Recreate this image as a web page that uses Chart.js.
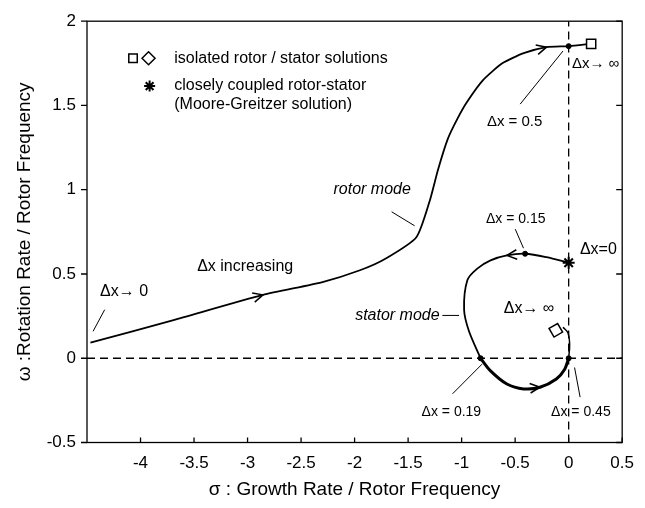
<!DOCTYPE html>
<html>
<head>
<meta charset="utf-8">
<script src="https://cdn.jsdelivr.net/npm/chart.js@4.4.0/dist/chart.umd.min.js"></script>
<style>
  html, body { margin: 0; padding: 0; background: #fff; }
  #wrap { width: 645px; height: 508px; }
</style>
</head>
<body>
<div id="wrap"><canvas id="graph_modos"></canvas></div>
<script>
// ---------- datos (sigma, omega) ----------
const rotorSigma = [-4.468, -3.70, -2.856, -2.30, -1.95, -1.708, -1.423, -1.30, -1.22, -1.13, -1.04, -0.95, -0.80, -0.62, -0.42, -0.207, 0, 0.21];
const rotorOmega = [0.092, 0.225, 0.376, 0.452, 0.522, 0.592, 0.718, 0.93, 1.12, 1.30, 1.42, 1.52, 1.65, 1.75, 1.81, 1.846, 1.852, 1.866];

const statorSigma = [0, -0.207, -0.407, -0.577, -0.730, -0.854, -0.946, -0.977, -0.931, -0.823];
const statorOmega = [0.567, 0.600, 0.62, 0.61, 0.581, 0.532, 0.464, 0.288, 0.160, 0.0];

const statorLowSigma = [-0.823, -0.730, -0.577, -0.422, -0.268, -0.115, -0.037, 0];
const statorLowOmega = [0.0, -0.075, -0.153, -0.182, -0.172, -0.123, -0.065, 0];

const statorEndSigma = [0, 0.009, -0.006, -0.053];
const statorEndOmega = [0, 0.082, 0.150, 0.184];

// puntos marcados: dx = 0.5, 0.15, 0.19, 0.45
const markSigma = [0, -0.407, -0.823, 0];
const markOmega = [1.852, 0.62, 0, 0];

const rotorSolSigma = [0.21];
const rotorSolOmega = [1.866];
const statorSolSigma = [-0.12];
const statorSolOmega = [0.166];
const mgSigma = [0];
const mgOmega = [0.567];

const xTicks = [-4, -3.5, -3, -2.5, -2, -1.5, -1, -0.5, 0, 0.5];
const yTicks = [-0.5, 0, 0.5, 1, 1.5, 2];

const pts = (xs, ys) => xs.map((x, i) => ({x: x, y: ys[i]}));

// textos y lineas guia (en unidades de los ejes)
const notes = [
    {t: 'isolated rotor / stator solutions', x: -3.685, y: 1.78, size: 16},
    {t: 'closely coupled rotor-stator', x: -3.685, y: 1.615, size: 16},
    {t: '(Moore-Greitzer solution)', x: -3.685, y: 1.504, size: 16},
    {t: 'Δx→ ∞', x: 0.03, y: 1.745, size: 15},
    {t: 'Δx = 0.5', x: -0.764, y: 1.404, size: 15},
    {t: 'rotor mode', x: -2.197, y: 0.999, size: 16, italic: true},
    {t: 'Δx increasing', x: -3.471, y: 0.542, size: 16},
    {t: 'Δx→ 0', x: -4.378, y: 0.395, size: 16},
    {t: 'Δx = 0.15', x: -0.773, y: 0.823, size: 14},
    {t: 'Δx=0', x: 0.105, y: 0.647, size: 16},
    {t: 'Δx→ ∞', x: -0.607, y: 0.295, size: 16},
    {t: 'stator mode', x: -1.995, y: 0.254, size: 16, italic: true},
    {t: 'Δx = 0.19', x: -1.374, y: -0.321, size: 14},
    {t: 'Δx = 0.45', x: -0.164, y: -0.321, size: 14}
];
const leaders = [
    [-0.053, 1.823, -0.453, 1.508],
    [-1.654, 0.869, -1.439, 0.786],
    [-4.335, 0.288, -4.443, 0.160],
    [-0.422, 0.653, -0.499, 0.766],
    [-1.18, 0.254, -1.024, 0.254],
    [-0.809, -0.035, -1.085, -0.211],
    [0.055, -0.055, 0.107, -0.231]
];
// flechas: [dataset, punto]
const arrows = [[0, 2], [0, 15], [1, 3], [2, 4]];

const FONT = "'Liberation Sans', Arial, Helvetica, sans-serif";

const paperPlugin = {
    id: 'paper',
    afterDatasetsDraw(chart) {
        const ctx = chart.ctx;
        ctx.save();
        ctx.strokeStyle = '#000';
        ctx.lineWidth = 1.5;
        arrows.forEach(function(a) {
            const d = chart.getDatasetMeta(a[0]).data;
            const p = d[a[1]], q = d[a[1] - 1];
            const ang = Math.atan2(p.y - q.y, p.x - q.x);
            const L = 11, w = 0.45;
            ctx.beginPath();
            ctx.moveTo(p.x - L * Math.cos(ang - w), p.y - L * Math.sin(ang - w));
            ctx.lineTo(p.x, p.y);
            ctx.lineTo(p.x - L * Math.cos(ang + w), p.y - L * Math.sin(ang + w));
            ctx.stroke();
        });
        ctx.restore();
    },
    afterDraw(chart) {
        const ctx = chart.ctx;
        const xs = chart.scales.x, ys = chart.scales.y;
        const a = chart.chartArea;
        ctx.save();
        // marco
        ctx.strokeStyle = '#000';
        ctx.lineWidth = 1.3;
        ctx.strokeRect(a.left, a.top, a.right - a.left, a.bottom - a.top);
        // marcas de los ejes
        ctx.beginPath();
        xTicks.forEach(function(v) {
            const px = xs.getPixelForValue(v);
            ctx.moveTo(px, a.bottom);
            ctx.lineTo(px, a.bottom - 5);
        });
        yTicks.forEach(function(v) {
            const py = ys.getPixelForValue(v);
            ctx.moveTo(a.left, py);
            ctx.lineTo(a.left - 6, py);
            ctx.moveTo(a.right, py);
            ctx.lineTo(a.right - 6, py);
        });
        ctx.stroke();
        // lineas guia
        ctx.lineWidth = 1;
        ctx.beginPath();
        leaders.forEach(function(l) {
            ctx.moveTo(xs.getPixelForValue(l[0]), ys.getPixelForValue(l[1]));
            ctx.lineTo(xs.getPixelForValue(l[2]), ys.getPixelForValue(l[3]));
        });
        ctx.stroke();
        // textos
        ctx.fillStyle = '#000';
        ctx.textAlign = 'left';
        ctx.textBaseline = 'middle';
        notes.forEach(function(n) {
            ctx.font = (n.italic ? 'italic ' : '') + n.size + 'px ' + FONT;
            ctx.fillText(n.t, xs.getPixelForValue(n.x), ys.getPixelForValue(n.y));
        });
        // simbolos de la leyenda
        ctx.fillStyle = '#fff';
        ctx.lineWidth = 1.5;
        Chart.helpers.drawPoint(ctx, {pointStyle: 'rect', radius: 6, borderWidth: 1.5}, xs.getPixelForValue(-4.07), ys.getPixelForValue(1.78));
        Chart.helpers.drawPoint(ctx, {pointStyle: 'rectRot', radius: 6.5, borderWidth: 1.5}, xs.getPixelForValue(-3.925), ys.getPixelForValue(1.78));
        ctx.lineWidth = 2;
        Chart.helpers.drawPoint(ctx, {pointStyle: 'star', radius: 5.5, borderWidth: 2}, xs.getPixelForValue(-3.915), ys.getPixelForValue(1.615));
        ctx.restore();
    }
};

const data_modos = {
    datasets: [{
        label: 'rotor mode',
        data: pts(rotorSigma, rotorOmega),
        showLine: true,
        borderColor: '#000',
        borderWidth: 1.8,
        pointRadius: 0,
        tension: 0.2
    },{
        label: 'stator mode',
        data: pts(statorSigma, statorOmega),
        showLine: true,
        borderColor: '#000',
        borderWidth: 1.8,
        pointRadius: 0,
        tension: 0.3
    },{
        label: 'stator mode (low)',
        data: pts(statorLowSigma, statorLowOmega),
        showLine: true,
        borderColor: '#000',
        borderWidth: 3,
        pointRadius: 0,
        tension: 0.3
    },{
        label: 'stator mode (end)',
        data: pts(statorEndSigma, statorEndOmega),
        showLine: true,
        borderColor: '#000',
        borderWidth: 1.5,
        pointRadius: 0,
        tension: 0.4
    },{
        label: 'marks',
        data: pts(markSigma, markOmega),
        pointRadius: 2.5,
        pointBackgroundColor: '#000',
        pointBorderColor: '#000',
        order: -1
    },{
        label: 'isolated rotor',
        data: pts(rotorSolSigma, rotorSolOmega),
        pointStyle: 'rect',
        pointRadius: 6.5,
        pointBorderWidth: 1.5,
        pointBackgroundColor: '#fff',
        pointBorderColor: '#000',
        order: -1
    },{
        label: 'isolated stator',
        data: pts(statorSolSigma, statorSolOmega),
        pointStyle: 'rectRot',
        pointRadius: 7,
        pointRotation: 15,
        pointBorderWidth: 1.5,
        pointBackgroundColor: '#fff',
        pointBorderColor: '#000',
        order: -1
    },{
        label: 'Moore-Greitzer',
        data: pts(mgSigma, mgOmega),
        pointStyle: 'star',
        pointRadius: 6,
        pointBorderWidth: 2,
        pointBorderColor: '#000',
        order: -1
    },{
        label: 'omega = 0',
        data: pts([-4.5, 0.5], [0, 0]),
        showLine: true,
        borderColor: '#000',
        borderWidth: 1.3,
        borderDash: [8, 5],
        pointRadius: 0,
        order: 5
    },{
        label: 'sigma = 0',
        data: pts([0, 0], [-0.5, 2]),
        showLine: true,
        borderColor: '#000',
        borderWidth: 1.3,
        borderDash: [8, 5],
        pointRadius: 0,
        order: 5
    }]
};

const config = {
    type: 'scatter',
    data: data_modos,
    options: {
        responsive: true,
        maintainAspectRatio: false,
        animation: false,
        layout: {padding: {top: 16.5, right: 15, left: 0, bottom: 0}},
        scales: {
            x: {
                type: 'linear',
                min: -4.5,
                max: 0.5,
                afterBuildTicks: function(scale) {
                    scale.ticks = xTicks.map(v => ({value: v}));
                },
                afterFit: function(scale) { scale.height = 65.5; },
                grid: {display: false, drawTicks: false},
                border: {display: false},
                ticks: {
                    color: '#000', padding: 11, font: {family: FONT, size: 17},
                    callback: function(value) { return String(value); }
                },
                title: {
                    display: true,
                    text: 'σ : Growth Rate / Rotor Frequency',
                    color: '#000',
                    font: {family: FONT, size: 19},
                    padding: {top: 0, bottom: 7}
                }
            },
            y: {
                type: 'linear',
                min: -0.5,
                max: 2,
                afterBuildTicks: function(scale) {
                    scale.ticks = yTicks.map(v => ({value: v}));
                },
                afterFit: function(scale) { scale.width = 87; },
                grid: {display: false, drawTicks: false},
                border: {display: false},
                ticks: {
                    color: '#000', padding: 11, font: {family: FONT, size: 17},
                    callback: function(value) { return String(value); }
                },
                title: {
                    display: true,
                    text: 'ω :Rotation Rate / Rotor Frequency',
                    color: '#000',
                    font: {family: FONT, size: 19},
                    padding: {top: 13, bottom: 0}
                }
            }
        },
        plugins: {
            legend: {display: false},
            tooltip: {enabled: false}
        }
    },
    plugins: [paperPlugin]
};

const modos_chart = new Chart(
    document.getElementById('graph_modos'),
    config
);
</script>
</body>
</html>
